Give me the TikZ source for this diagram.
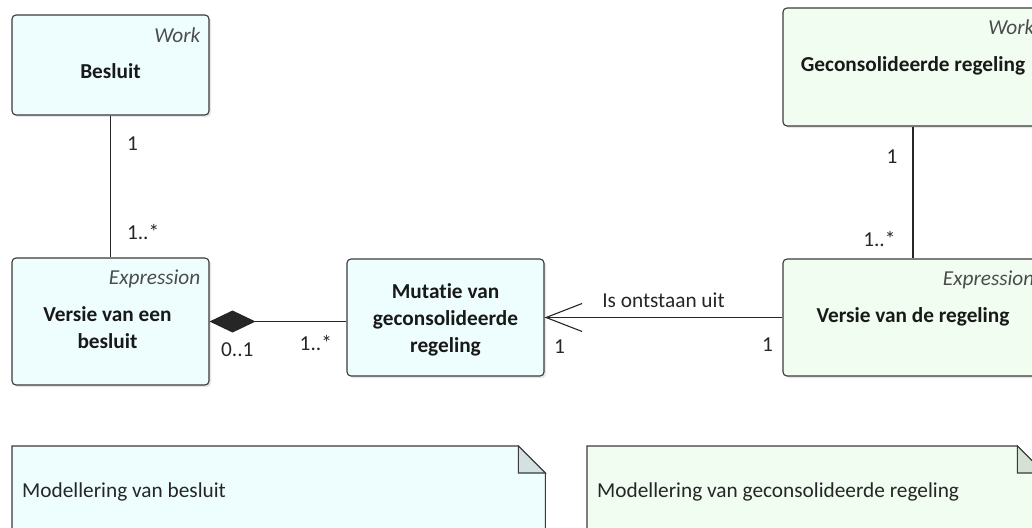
\documentclass[tikz,border=0pt]{standalone}
\usepackage{fontspec}
\setmainfont{Carlito}[Ligatures=NoCommon]
\usepackage{tikz}
\usetikzlibrary{positioning}
\usetikzlibrary{arrows.meta,shadows}
\definecolor{besluitFill}{HTML}{EEFEFF}
\definecolor{regelingFill}{HTML}{F0FDF0}
\definecolor{besluitFold}{HTML}{D3E1E2}
\definecolor{regelingFold}{HTML}{D4E1D4}
\definecolor{kader}{HTML}{3A3A3A}
\newcommand{\eaFont}{\fontsize{21.3}{27}\selectfont}
\tikzset{
    umlBox/.style={draw=kader, line width=1.1pt, rounded corners=4pt, inner sep=0pt,
        drop shadow={shadow xshift=2pt, shadow yshift=-2pt, opacity=0.2}},
    umlName/.style={font=\eaFont\bfseries, text=black!90, align=center, anchor=base, inner sep=0pt},
    umlStereo/.style={font=\eaFont\itshape, text=black!70, anchor=base east, inner sep=0pt},
    mult/.style={font=\eaFont, text=black!85, inner sep=0pt},
    assoc/.style={draw=black!85, line width=1.1pt},
    noteBox/.style={inner sep=0pt, anchor=north west},
    noteText/.style={font=\eaFont, text=black!85, anchor=base west, inner sep=0pt}
}

\begin{document}
\begin{tikzpicture}[x=1pt,y=-1pt]
        \useasboundingbox (0,0) rectangle (1032,527);
        \clip (0,0) rectangle (1032,527);
        % classes
        \node[umlBox, fill=besluitFill, minimum width=197pt, minimum height=100pt] (besluit) at (110.5,65) {};
        \node[umlBox, fill=besluitFill, minimum width=197pt, minimum height=127pt] (versieBesluit) at (110.5,321.5) {};
        \node[umlBox, fill=besluitFill, minimum width=197pt, minimum height=117pt] (mutatie) at (445.5,317.5) {};
        \node[umlBox, fill=regelingFill, minimum width=260pt, minimum height=118pt] (gecons) at (913,67) {};
        \node[umlBox, fill=regelingFill, minimum width=260pt, minimum height=117pt] (versieRegeling) at (913,317.5) {};
        % names and stereotypes
        \node[umlStereo] (besluitWork) at ([xshift=-9pt,yshift=-28pt]besluit.north east) {Work};
        \node[umlName] (besluitNaam) at ([yshift=-64pt]besluit.north) {Besluit};
        \node[umlStereo] (versieBesluitExpr) at ([xshift=-9pt,yshift=-27pt]versieBesluit.north east) {Expression};
        \node[umlName] (versieBesluitNaam) at ([xshift=-3pt,yshift=-91pt]versieBesluit.north) {Versie van een\\besluit};
        \node[umlName] (mutatieNaam) at ([yshift=-94pt]mutatie.north) {Mutatie van\\geconsolideerde\\regeling};
        \node[umlStereo] (geconsWork) at ([xshift=-9pt,yshift=-27pt]gecons.north east) {Work};
        \node[umlName] (geconsNaam) at ([yshift=-64pt]gecons.north) {Geconsolideerde regeling};
        \node[umlStereo] (versieRegelingExpr) at ([xshift=-9pt,yshift=-27pt]versieRegeling.north east) {Expression};
        \node[umlName] (versieRegelingNaam) at ([yshift=-64pt]versieRegeling.north) {Versie van de regeling};
        % associations
        \draw[assoc] (besluit) -- (versieBesluit)
            node[mult, pos=0.2, anchor=west, xshift=16pt] (mB1) {1}
            node[mult, pos=0.82, anchor=west, xshift=16pt] (mB2) {1..*};
        \draw[assoc] (gecons) -- (versieRegeling)
            node[mult, pos=0.23, anchor=east, xshift=-15pt] (mG1) {1}
            node[mult, pos=0.85, anchor=east, xshift=-17pt] (mG2) {1..*};
        \draw[assoc, {Diamond[length=46pt,width=22pt]}-] (versieBesluit.east) -- (versieBesluit.east -| mutatie.west)
            node[mult, pos=0, anchor=west, xshift=11pt, yshift=-28pt] (mC1) {0..1}
            node[mult, pos=1, anchor=east, xshift=-14pt, yshift=-22pt] (mC2) {1..*};
        \draw[assoc, -{Straight Barb[length=36pt,width=28pt,line width=1.1pt]}] (versieRegeling) -- (mutatie)
            node[mult, pos=0.5, anchor=base, yshift=10pt] (relNaam) {Is ontstaan uit}
            node[mult, pos=0, anchor=east, xshift=-9pt, yshift=-27pt] (mR1) {1}
            node[mult, pos=1, anchor=west, xshift=9pt, yshift=-29pt] (mR2) {1};
        % notes
        \node[noteBox, minimum width=533pt, minimum height=100pt] (notitieBesluit) at (12,446) {};
        \filldraw[fill=besluitFill, draw=kader, line width=1.1pt] (notitieBesluit.north west) -- ([xshift=-27pt]notitieBesluit.north east)
            -- ([yshift=-27pt]notitieBesluit.north east) -- (notitieBesluit.south east) -- (notitieBesluit.south west) -- cycle;
        \filldraw[fill=besluitFold, draw=kader, line width=1.1pt] ([xshift=-27pt]notitieBesluit.north east)
            -- ([xshift=-27pt,yshift=-27pt]notitieBesluit.north east) -- ([yshift=-27pt]notitieBesluit.north east) -- cycle;
        \node[noteText] (tekstBesluit) at ([xshift=10pt,yshift=-51pt]notitieBesluit.north west) {Modellering van besluit};
        \node[noteBox, minimum width=457pt, minimum height=100pt] (notitieRegeling) at (587,446) {};
        \filldraw[fill=regelingFill, draw=kader, line width=1.1pt] (notitieRegeling.north west) -- ([xshift=-27pt]notitieRegeling.north east)
            -- ([yshift=-27pt]notitieRegeling.north east) -- (notitieRegeling.south east) -- (notitieRegeling.south west) -- cycle;
        \filldraw[fill=regelingFold, draw=kader, line width=1.1pt] ([xshift=-27pt]notitieRegeling.north east)
            -- ([xshift=-27pt,yshift=-27pt]notitieRegeling.north east) -- ([yshift=-27pt]notitieRegeling.north east) -- cycle;
        \node[noteText] (tekstRegeling) at ([xshift=10pt,yshift=-51pt]notitieRegeling.north west) {Modellering van geconsolideerde regeling};
      \end{tikzpicture}
\end{document}
